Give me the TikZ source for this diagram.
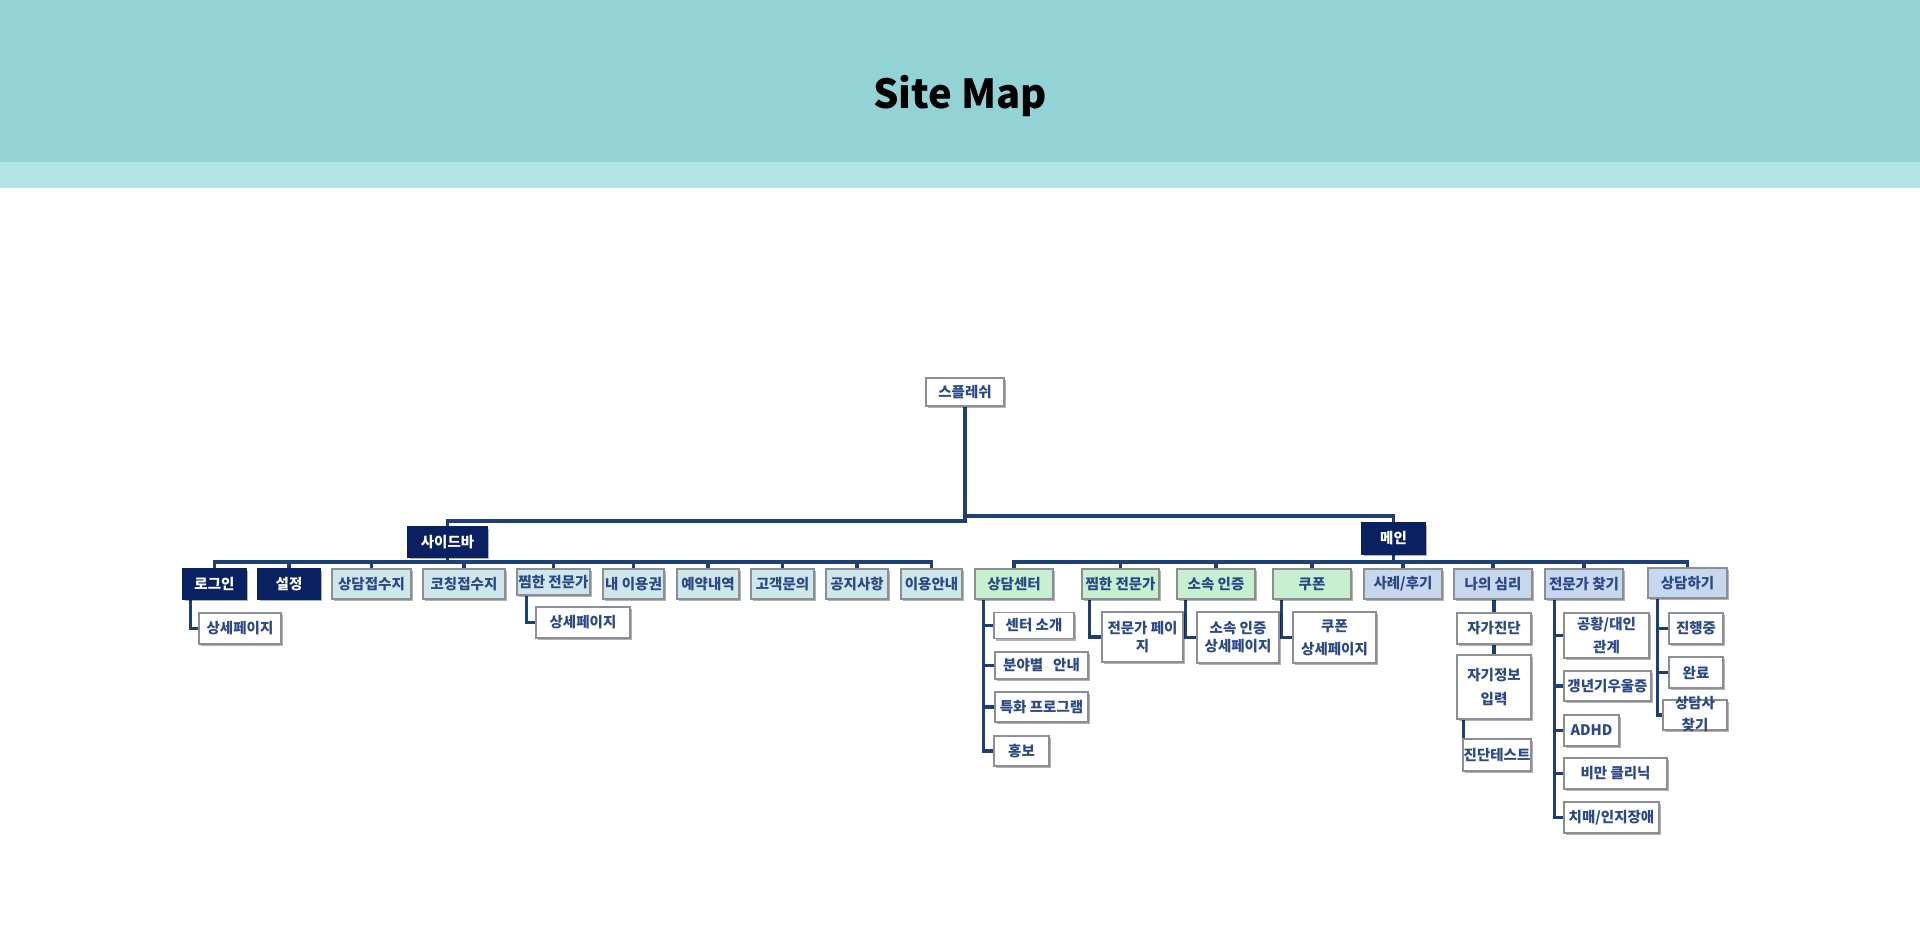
\documentclass[tikz,border=0pt]{standalone}
\usepackage{fontspec}
\newfontfamily\kr{Noto Sans CJK KR}
\usetikzlibrary{shadows,calc}
\definecolor{headdark}{HTML}{93D3D6}
\definecolor{headlight}{HTML}{B3E4E4}
\definecolor{navy}{HTML}{0A2161}
\definecolor{boxgray}{HTML}{8A8F94}
\definecolor{txt}{HTML}{2B4A85}
\definecolor{linec}{HTML}{1E3F73}
\definecolor{cyanfill}{HTML}{CFE7EA}
\definecolor{greenfill}{HTML}{C8EFCF}
\definecolor{bluefill}{HTML}{C6D7EE}
\pgfdeclarelayer{back}
\pgfdeclarelayer{lines}
\pgfsetlayers{back,lines,main}
\tikzset{
  box/.style={draw=boxgray, line width=1.2pt, inner sep=0pt, align=center, text=txt,
    font=\kr\bfseries\fontsize{14.5}{18}\selectfont,
    drop shadow={shadow xshift=2pt, shadow yshift=-2pt, opacity=0.3, fill=black}},
  navybox/.style={box, fill=navy, draw=navy, text=white},
  cyanbox/.style={box, fill=cyanfill},
  greenbox/.style={box, fill=greenfill},
  bluebox/.style={box, fill=bluefill},
  whitebox/.style={box, fill=white},
  wh/.style 2 args={minimum width=#1pt, minimum height=#2pt},
  conn/.style={draw=linec, line width=3.6pt, line cap=rect},
}
\begin{document}
\begin{tikzpicture}[x=1pt,y=-1pt]
\begin{pgfonlayer}{back}
\fill[white] (0,0) rectangle (1920,950);
\fill[headdark] (0,0) rectangle (1920,162);
\fill[headlight] (0,162) rectangle (1920,188);
\end{pgfonlayer}
\useasboundingbox (0,0) rectangle (1920,950);
\node[font=\kr\bfseries\fontsize{40}{46}\selectfont, text=black, anchor=base] (title) at (960,108) {Site Map};

% root and level 1
\node[whitebox, wh={78}{28}] (splash) at (965,392) {스플레쉬};
\node[navybox, wh={79}{30}] (sidebar) at (447.5,542) {사이드바};
\node[navybox, wh={63}{31}] (main) at (1393.5,538.5) {메인};

% sidebar children
\node[navybox, wh={63}{30}] (login) at (214.5,584) {로그인};
\node[navybox, wh={62}{30}] (settings) at (289,584) {설정};
\node[cyanbox, wh={79}{30}] (sb3) at (371.5,584) {상담접수지};
\node[cyanbox, wh={82}{30}] (sb4) at (464,584) {코칭접수지};
\node[cyanbox, wh={73}{26}] (sb5) at (553.5,582) {찜한 전문가};
\node[cyanbox, wh={61}{30}] (sb6) at (633.5,584) {내 이용권};
\node[cyanbox, wh={62}{30}] (sb7) at (708,584) {예약내역};
\node[cyanbox, wh={63}{30}] (sb8) at (782.5,584) {고객문의};
\node[cyanbox, wh={62}{30}] (sb9) at (857,584) {공지사항};
\node[cyanbox, wh={61}{30}] (sb10) at (931.5,584) {이용안내};

\node[whitebox, wh={82}{31}] (logdet) at (240,628.5) {상세페이지};
\node[whitebox, wh={94}{31}] (jjimdet) at (583,622.5) {상세페이지};

% main children
\node[greenbox, wh={78}{30}] (center) at (1014,584) {상담센터};
\node[greenbox, wh={77}{30}] (jjim) at (1120.5,584) {찜한 전문가};
\node[greenbox, wh={78}{30}] (cert) at (1216,584) {소속 인증};
\node[greenbox, wh={78}{30}] (coupon) at (1312,584) {쿠폰};
\node[bluebox, wh={78}{30}] (review) at (1403,584) {사례/후기};
\node[bluebox, wh={78}{30}] (mind) at (1493,584) {나의 심리};
\node[bluebox, wh={78}{30}] (find) at (1584,584) {전문가 찾기};
\node[bluebox, wh={79}{30}] (talk) at (1687.5,583) {상담하기};

% center children
\node[whitebox, wh={80}{26}] (intro) at (1034,625.5) {센터 소개};
\node[whitebox, wh={93}{27}] (field) at (1041.5,665.5) {분야별\ \ \ 안내};
\node[whitebox, wh={93}{30}] (program) at (1041.5,707) {특화 프로그램};
\node[whitebox, wh={55}{30}] (promo) at (1021.5,751) {홍보};

\node[whitebox, wh={81}{50}] (expage) at (1142.5,637) {전문가 페이\\지};
\node[whitebox, wh={82}{51}] (certdet) at (1238,637.5) {소속 인증\\상세페이지};
\node[whitebox, wh={83}{51}, font=\kr\bfseries\fontsize{14.5}{23}\selectfont] (coupdet) at (1334.5,637.5) {쿠폰\\상세페이지};

% mind children
\node[whitebox, wh={74}{31}] (selfdiag) at (1494,628.5) {자가진단};
\node[whitebox, wh={74}{64}, font=\kr\bfseries\fontsize{14.5}{24}\selectfont] (selfinfo) at (1494,687) {자기정보\\입력};
\node[whitebox, wh={68}{32}] (test) at (1497,755) {진단테스트};

% find children
\node[whitebox, wh={85}{45}, font=\kr\bfseries\fontsize{14.5}{23}\selectfont] (panic) at (1606.5,635.5) {공황/대인\\관계};
\node[whitebox, wh={87}{30}] (meno) at (1607.5,686) {갱년기우울증};
\node[whitebox, wh={55}{31}] (adhd) at (1591.5,730.5) {ADHD};
\node[whitebox, wh={103}{31}] (obes) at (1615.5,773.5) {비만 클리닉};
\node[whitebox, wh={95}{31}] (dem) at (1611.5,817.5) {치매/인지장애};

% talk children
\node[whitebox, wh={54}{31}] (prog) at (1696,628.5) {진행중};
\node[whitebox, wh={54}{31}] (done) at (1696,672.5) {완료};
\node[whitebox, wh={64}{30}] (seek) at (1695,715) {};
\node[text=txt, align=center, inner sep=0pt, font=\kr\bfseries\fontsize{14.5}{22}\selectfont] (seektxt) at (1695,714) {상담사\\찾기};

% connectors
\begin{pgfonlayer}{lines}
\coordinate (jL) at (965,521);
\coordinate (jR) at (965,516);
\draw[conn] (splash.south) -- (jL) -| (sidebar.north);
\draw[conn] (jR) -| (main.north);

\coordinate (sbus) at (0,562);
\draw[conn] (sidebar.south) -- (sidebar.south |- sbus);
\draw[conn] (login.north) -- (login.north |- sbus) -- (sb10.north |- sbus) -- (sb10.north);
\foreach \n in {settings,sb3,sb4,sb5,sb6,sb7,sb8,sb9}
  \draw[conn] (\n.north) -- (\n.north |- sbus);
\draw[conn] ([xshift=8pt]login.south west) |- (logdet.west);
\draw[conn] ([xshift=10pt]sb5.south west) |- (jjimdet.west);

\coordinate (mbus) at (0,562);
\draw[conn] (main.south) -- (main.south |- mbus);
\draw[conn] (center.north) -- (center.north |- mbus) -- (talk.north |- mbus) -- (talk.north);
\foreach \n in {jjim,cert,coupon,review,mind,find}
  \draw[conn] (\n.north) -- (\n.north |- mbus);

\coordinate (tC) at ([xshift=9pt]center.south west);
\draw[conn] (tC) |- (promo.west);
\foreach \n in {intro,field,program}
  \draw[conn] (\n.west) -- (\n.west -| tC);
\draw[conn] ([xshift=8pt]jjim.south west) |- (expage.west);
\draw[conn] ([xshift=9pt]cert.south west) |- (certdet.west);
\draw[conn] ([xshift=9pt]coupon.south west) |- (coupdet.west);

\draw[conn] (selfdiag.north) -- (selfdiag.north |- mind.south);
\draw[conn] (selfdiag.south) -- (selfinfo.north);
\draw[conn] ([xshift=1pt]test.north west) -- ([xshift=1pt]test.north west |- selfinfo.south);

\coordinate (tF) at ([xshift=10pt]find.south west);
\draw[conn] (tF) |- (dem.west);
\foreach \n in {panic,meno,adhd,obes}
  \draw[conn] (\n.west) -- (\n.west -| tF);

\coordinate (tT) at ([xshift=10pt]talk.south west);
\draw[conn] (tT) |- (seek.west);
\foreach \n in {prog,done}
  \draw[conn] (\n.west) -- (\n.west -| tT);
\end{pgfonlayer}
\end{tikzpicture}
\end{document}
